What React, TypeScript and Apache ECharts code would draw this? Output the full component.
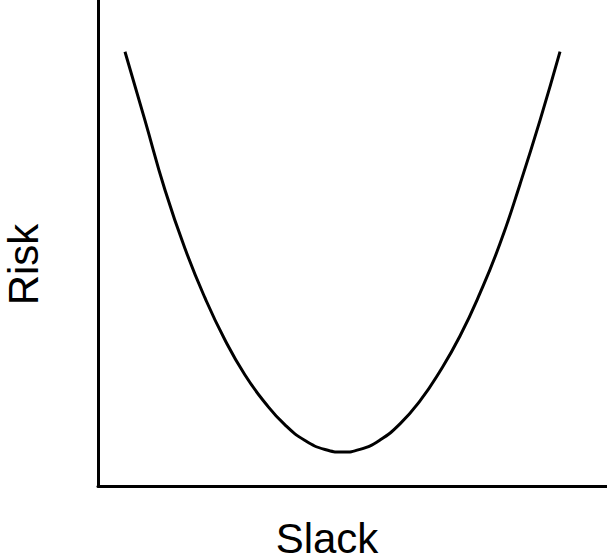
import React, { useEffect, useRef } from "react";
import * as echarts from "echarts";

const xLabel = "Slack";
const yLabel = "Risk";

// Curve points (x: slack, y: risk), both axes 0..100
const slackValues = [
  5.3, 9.23, 13.16, 17.09, 21.02, 24.95, 28.88, 32.81, 36.74, 40.67, 44.6, 48.04,
  51.47, 55.4, 59.33, 63.26, 67.19, 71.12, 75.05, 78.98, 82.91, 86.84, 90.77,
];
const riskValues = [
  89.36, 75.23, 60.91, 48.85, 38.7, 30.04, 22.84, 17.14, 12.57, 9.36, 7.51, 7.0,
  7.53, 9.47, 12.78, 17.51, 23.62, 30.86, 39.67, 49.88, 62.1, 75.23, 89.36,
];

export default function App() {
  const ref = useRef<HTMLDivElement>(null);
  useEffect(() => {
    if (!ref.current) return;
    const chart = echarts.init(ref.current, undefined, { renderer: "svg" });
    const data = slackValues.map((x, i) => [x, riskValues[i]]);
    const font = "'Liberation Sans', Arial, sans-serif";
    chart.setOption({
      animation: false,
      backgroundColor: "#ffffff",
      grid: { left: 98, right: 0, top: 0, bottom: 74, containLabel: false },
      xAxis: {
        type: "value",
        min: 0,
        max: 100,
        axisLine: { show: true, onZero: false, lineStyle: { color: "#000", width: 3 } },
        axisTick: { show: false },
        axisLabel: { show: false },
        splitLine: { show: false },
      },
      yAxis: {
        type: "value",
        min: 0,
        max: 100,
        axisLine: { show: true, onZero: false, lineStyle: { color: "#000", width: 3 } },
        axisTick: { show: false },
        axisLabel: { show: false },
        splitLine: { show: false },
      },
      graphic: [
        {
          type: "text",
          x: 327,
          y: 538,
          style: {
            text: xLabel,
            fill: "#000",
            font: `42px ${font}`,
            lineHeight: 34,
            textAlign: "center",
            textVerticalAlign: "middle",
          },
        },
        {
          type: "text",
          x: 23.5,
          y: 264.5,
          rotation: Math.PI / 2,
          style: {
            text: yLabel,
            fill: "#000",
            font: `42px ${font}`,
            lineHeight: 34,
            textAlign: "center",
            textVerticalAlign: "middle",
          },
        },
      ],
      series: [
        {
          type: "line",
          data,
          smooth: 0.5,
          showSymbol: false,
          lineStyle: { color: "#000", width: 3 },
          silent: true,
        },
      ],
    });
    return () => chart.dispose();
  }, []);
  return (
    <div
      ref={ref}
      style={{ position: "absolute", left: 0, top: 0, width: 607, height: 560 }}
    />
  );
}
